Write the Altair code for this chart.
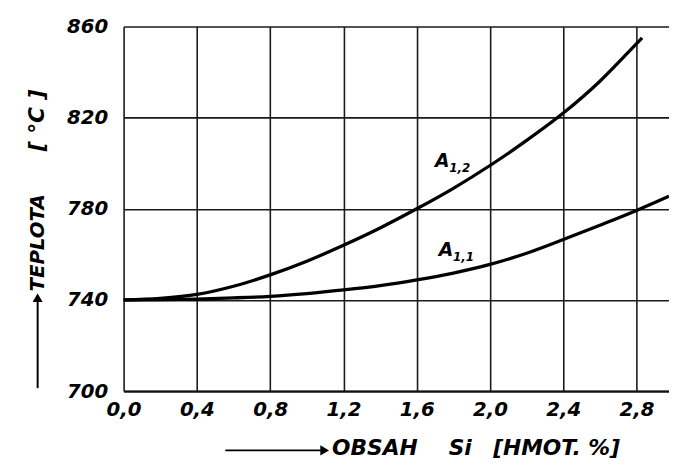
import altair as alt
import pandas as pd

# --- data ---
x_a12 = [0, 0.2, 0.4, 0.6, 0.8, 1.0, 1.2, 1.4, 1.6, 1.8, 2.0, 2.2, 2.4, 2.6, 2.8, 2.83]
y_a12 = [740, 740.7, 742.4, 746, 751, 757, 764, 771.6, 780, 789, 799, 810, 822, 836, 852.5, 855]
x_a11 = [0, 0.2, 0.4, 0.6, 0.8, 1.0, 1.2, 1.4, 1.6, 1.8, 2.0, 2.2, 2.4, 2.6, 2.8, 2.977]
y_a11 = [740, 740.1, 740.4, 740.9, 741.6, 742.8, 744.4, 746.3, 748.8, 751.8, 755.6, 760.5, 766.5, 772.8, 779.3, 785.5]

x_ticks = [0.0, 0.4, 0.8, 1.2, 1.6, 2.0, 2.4, 2.8]
y_ticks = [700, 740, 780, 820, 860]

lab_main = ["A", "A"]
lab_sub = ["1,2", "1,1"]
lab_x = [1.74, 1.76]
lab_y = [801, 762]

FONT = "DejaVu Sans"
W, H = 552, 369
NB = "\u00a0"

curves = pd.concat([
    pd.DataFrame({"x": x_a12, "y": y_a12, "c": "A12"}),
    pd.DataFrame({"x": x_a11, "y": y_a11, "c": "A11"}),
])
labels = pd.DataFrame({"x": lab_x, "y": lab_y, "m": lab_main, "s": lab_sub})

xs = alt.Scale(domain=[0, 2.977], nice=False, zero=False)
ys = alt.Scale(domain=[700, 860], nice=False, zero=False)

x_axis = alt.Axis(values=x_ticks, title=None, grid=True, ticks=False, domain=True,
                  domainColor="#111", domainWidth=2, labelFlush=False,
                  labelExpr="replace(format(datum.value, '.1f'), '.', ',')",
                  labelPadding=9)
y_axis = alt.Axis(values=y_ticks, title=None, grid=True, ticks=False, domain=False,
                  labelPadding=16, labelFlush=False)

lines = alt.Chart(curves).mark_line(color="black", strokeWidth=3.3, interpolate="monotone").encode(
    x=alt.X("x:Q", scale=xs, axis=x_axis),
    y=alt.Y("y:Q", scale=ys, axis=y_axis),
    detail="c:N",
)

txt_main = alt.Chart(labels).mark_text(font=FONT, fontSize=19, fontStyle="italic", fontWeight="bold",
                                       color="black", align="center", baseline="middle").encode(
    x=alt.X("x:Q", scale=xs), y=alt.Y("y:Q", scale=ys), text="m:N")
txt_sub = alt.Chart(labels).mark_text(font=FONT, fontSize=12, fontStyle="italic", fontWeight="bold",
                                      color="black", align="left", baseline="middle", dx=7, dy=7).encode(
    x=alt.X("x:Q", scale=xs), y=alt.Y("y:Q", scale=ys), text="s:N")

one = pd.DataFrame({"a": [0]})

# axis title decorations (pixel positions relative to plot area)
y_arrow = alt.Chart(one).mark_rule(color="black", strokeWidth=2).encode(
    x=alt.value(-87), y=alt.value(366), y2=alt.value(277))
y_head = alt.Chart(one).mark_point(
    shape="triangle-up", filled=True, fill="black", stroke="black", size=45, opacity=1).encode(
    x=alt.value(-87), y=alt.value(275))
y_t1 = alt.Chart(pd.DataFrame({"t": ["TEPLOTA"]})).mark_text(
    font=FONT, fontSize=20, fontStyle="italic", fontWeight="bold", color="black",
    angle=270, align="center", baseline="middle").encode(
    x=alt.value(-87), y=alt.value(219), text="t:N")
y_t2 = alt.Chart(pd.DataFrame({"t": ["[" + NB + "°C" + NB + "]"]})).mark_text(
    font=FONT, fontSize=22, fontStyle="italic", fontWeight="bold", color="black",
    angle=270, align="center", baseline="middle").encode(
    x=alt.value(-88), y=alt.value(95), text="t:N")

TY = 427
x_arrow = alt.Chart(one).mark_rule(color="black", strokeWidth=2).encode(
    x=alt.value(103), x2=alt.value(201), y=alt.value(TY + 2))
x_head = alt.Chart(one).mark_point(
    shape="triangle-right", filled=True, fill="black", stroke="black", size=45, opacity=1).encode(
    x=alt.value(203), y=alt.value(TY + 2))
x_t1 = alt.Chart(pd.DataFrame({"t": ["OBSAH"]})).mark_text(
    font=FONT, fontSize=22, fontStyle="italic", fontWeight="bold", color="black",
    align="left", baseline="middle").encode(
    x=alt.value(211), y=alt.value(TY), text="t:N")
x_t2 = alt.Chart(pd.DataFrame({"t": ["Si"]})).mark_text(
    font=FONT, fontSize=22, fontStyle="italic", fontWeight="bold", color="black",
    align="left", baseline="middle").encode(
    x=alt.value(329), y=alt.value(TY), text="t:N")
x_t3 = alt.Chart(pd.DataFrame({"t": ["[HMOT." + NB + "%]"]})).mark_text(
    font=FONT, fontSize=22, fontStyle="italic", fontWeight="bold", color="black",
    align="left", baseline="middle").encode(
    x=alt.value(374), y=alt.value(TY), text="t:N")

chart = alt.layer(lines, txt_main, txt_sub, y_arrow, y_head, y_t1, y_t2,
                  x_arrow, x_head, x_t1, x_t2, x_t3).properties(
    width=W, height=H,
    autosize=alt.AutoSizeParams(type="none"),
    padding={"left": 117, "top": 16, "right": 0, "bottom": 67},
    background="white",
).configure_view(stroke=None).configure_axis(
    gridColor="#1a1a1a", gridWidth=1.6, gridOpacity=1,
    labelFont=FONT, labelFontSize=20, labelFontStyle="italic", labelFontWeight="bold",
    labelColor="black",
)

chart.save("out.html", embed_options={"renderer": "svg", "actions": False})
